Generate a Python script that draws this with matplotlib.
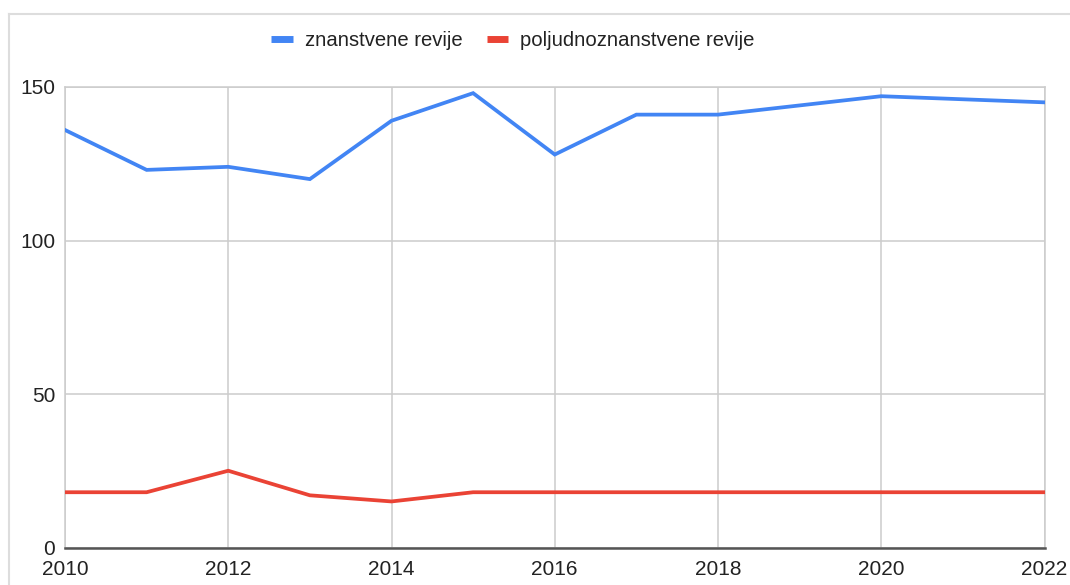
import matplotlib
matplotlib.use("Agg")
import matplotlib.pyplot as plt
from matplotlib.lines import Line2D

years = list(range(2010, 2023))
znanstvene = [136, 123, 124, 120, 139, 148, 128, 141, 141, 144, 147, 146, 145]
poljudno = [18, 18, 25, 17, 15, 18, 18, 18, 18, 18, 18, 18, 18]
series_names = ["znanstvene revije", "poljudnoznanstvene revije"]
colors = ["#4285F4", "#EA4335"]
xticks = [2010, 2012, 2014, 2016, 2018, 2020, 2022]
yticks = [0, 50, 100, 150]

plt.rcParams['font.family'] = ['Liberation Sans', 'DejaVu Sans']

fig = plt.figure(figsize=(10.7, 5.85), dpi=100)
W, H = 1070, 585
ax = fig.add_axes([65 / W, 1 - 547.5 / H, (1044.5 - 65) / W, (547.5 - 87) / H])

# outer light border (top & left)
fig.add_artist(Line2D([9 / W, 1.0], [1 - 14 / H, 1 - 14 / H], color="#dddddd", lw=1.5, transform=fig.transFigure))
fig.add_artist(Line2D([9 / W, 9 / W], [0, 1 - 14 / H], color="#dddddd", lw=1.5, transform=fig.transFigure))

for vals, name, c in zip([znanstvene, poljudno], series_names, colors):
    ax.plot(years, vals, color=c, lw=2.7, label=name, solid_joinstyle="miter", zorder=3)

ax.set_xlim(2010, 2022)
ax.set_ylim(0, 150)
ax.set_xticks(xticks)
ax.set_yticks(yticks)
ax.grid(True, color="#cccccc", lw=1.1)
ax.set_axisbelow(True)
for s in ["top", "right", "left"]:
    ax.spines[s].set_color("#cccccc")
    ax.spines[s].set_linewidth(1.1)
ax.spines["bottom"].set_color("#555555")
ax.spines["bottom"].set_linewidth(1.8)
ax.spines["bottom"].set_zorder(4)
ax.tick_params(axis="both", length=0, labelsize=15, labelcolor="#222222")
ax.tick_params(axis="y", pad=7)
ax.tick_params(axis="x", pad=9)

leg = fig.legend(loc="center", bbox_to_anchor=(513 / W, 1 - 41 / H), ncol=2, frameon=False,
                 fontsize=14.6, handlelength=1.05, handletextpad=0.6, columnspacing=1.2,
                 labelcolor="#222222")
for h in leg.get_lines():
    h.set_linewidth(5)
    h.set_solid_capstyle("butt")

fig.savefig("out.png", dpi=100)
